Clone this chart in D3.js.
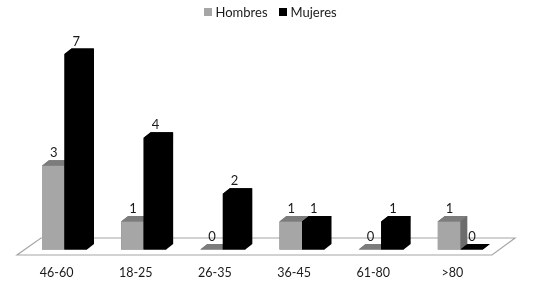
<!DOCTYPE html>
<html>
<head>
<meta charset="utf-8">
<script src="https://cdn.jsdelivr.net/npm/d3@7"></script>
<style>
    html, body { margin: 0; padding: 0; background: #fff; }
    svg { display: block; filter: blur(0.4px); }
    text { font-family: Lato, "Open Sans", sans-serif; font-size: 13px; fill: #1a1a1a; }
</style>
</head>
<body>
<svg id="chart" width="536" height="282"></svg>
<script>
const categories = ['46-60', '18-25', '26-35', '36-45', '61-80', '>80'];
const series = ['Hombres', 'Mujeres'];
const hombres = [3, 1, 0, 1, 0, 1];
const mujeres = [7, 4, 2, 1, 1, 0];

const values = { Hombres: hombres, Mujeres: mujeres };
const colors = {
    Hombres: { front: '#a6a6a6', top: '#7c7c7c', side: '#6c6c6c' },
    Mujeres: { front: '#000000', top: '#000000', side: '#000000' }
};

const depthX = 7, depthY = 5.5;

const svg = d3.select('#chart');

// floor front edge spans the whole category range
let x = d3.scaleBand().domain(categories).range([17, 492]);
let inner = d3.scaleBand().domain(series).range([25, 70]);
let y = d3.scaleLinear().domain([0, 7]).range([249.5, 54]);

const floorFront = 255, floorBack = 238, floorShift = 24;

const poly = pts => pts.map(p => p.join(',')).join(' ');

svg.append('polygon')
    .attr('points', poly([
        [x.range()[0], floorFront], [x.range()[1], floorFront],
        [x.range()[1] + floorShift - 1, floorBack], [x.range()[0] + floorShift, floorBack]
    ]))
    .attr('fill', '#fff')
    .attr('stroke', '#a6a6a6')
    .attr('stroke-width', 1.2);

// one group per bar, drawn left to right so the later bars cover the sides
const bars = [];
categories.forEach((c, i) => series.forEach(s => bars.push({ c: c, s: s, v: values[s][i] })));

const bar = svg.append('g').selectAll('g')
    .data(bars)
    .join('g')
    .attr('class', d => d.s);

const x0 = d => x(d.c) + inner(d.s);
const x1 = d => x0(d) + inner.bandwidth();

// whole outline first, otherwise the faces leave pale seams on the black bars
bar.append('polygon')
    .attr('points', d => poly([
        [x0(d), y(0)], [x1(d), y(0)], [x1(d) + depthX, y(0) - depthY],
        [x1(d) + depthX, y(d.v) - depthY], [x0(d) + depthX, y(d.v) - depthY], [x0(d), y(d.v)]
    ]))
    .attr('fill', d => colors[d.s].side);

bar.append('polygon') // top
    .attr('points', d => poly([
        [x0(d), y(d.v)], [x1(d), y(d.v)],
        [x1(d) + depthX, y(d.v) - depthY], [x0(d) + depthX, y(d.v) - depthY]
    ]))
    .attr('fill', d => colors[d.s].top);

bar.append('rect') // front
    .attr('x', x0)
    .attr('y', d => y(d.v))
    .attr('width', inner.bandwidth())
    .attr('height', d => y(0) - y(d.v))
    .attr('fill', d => colors[d.s].front);

bar.append('text')
    .attr('x', d => x0(d) + inner.bandwidth() / 2 + 0.5)
    .attr('y', d => y(d.v) - depthY - 3)
    .attr('text-anchor', 'middle')
    .text(d => d.v);

// category labels
const axis = d3.axisBottom(x).tickSize(0).tickPadding(0);
svg.append('g')
    .attr('transform', 'translate(0,268)')
    .call(axis)
    .call(g => g.select('.domain').remove())
    .call(g => g.selectAll('text')
        .attr('dy', '0.71em')
        .style('font-family', 'Lato, "Open Sans", sans-serif')
        .style('font-size', '12.5px')
        .attr('fill', '#1a1a1a'));

// legend
const legendX = d3.scaleOrdinal().domain(series).range([204, 279]);
const legend = svg.append('g').selectAll('g')
    .data(series)
    .join('g')
    .attr('transform', d => `translate(${legendX(d)},0)`);

legend.append('rect')
    .attr('y', 8)
    .attr('width', 8)
    .attr('height', 8)
    .attr('fill', d => colors[d].front);

legend.append('text')
    .attr('x', 11.5)
    .attr('y', 16.5)
    .text(d => d);
</script>
</body>
</html>
